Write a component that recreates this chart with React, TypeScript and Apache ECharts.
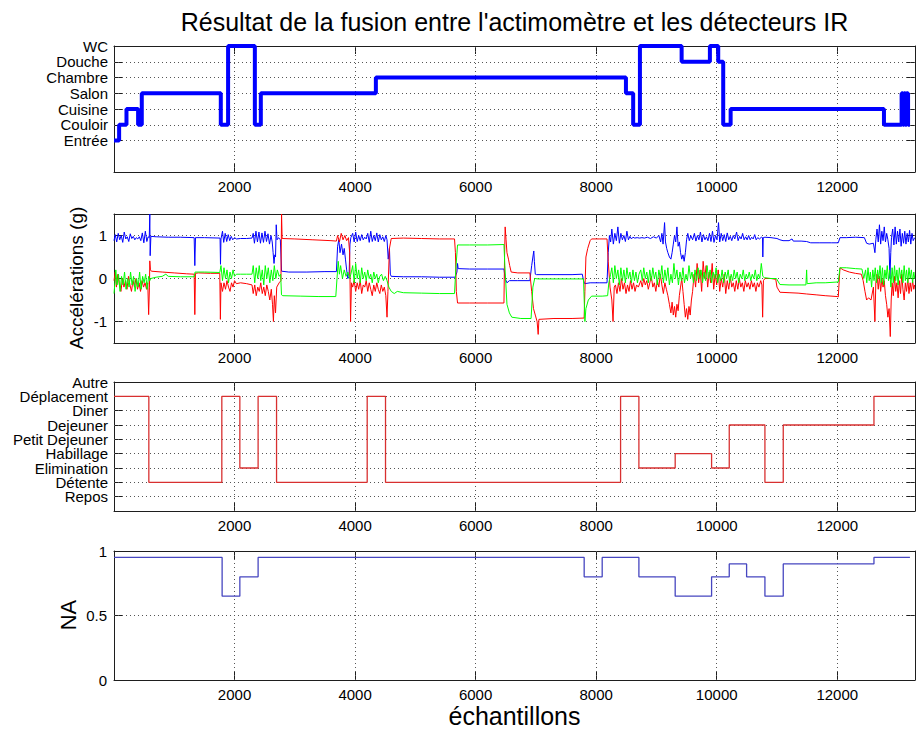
import React, { useEffect, useRef } from 'react';
import * as echarts from 'echarts';

const FONT = "'Liberation Sans', Arial, Helvetica, sans-serif";
const AX = '#1e1e1e';
const GRID_C = '#555555';

const X_MAX = 13290;
const xTicks = [2000, 4000, 6000, 8000, 10000, 12000];

// Panel 1 : location
const locationNames = ['Entrée', 'Couloir', 'Cuisine', 'Salon', 'Chambre', 'Douche', 'WC'];
const locationStarts = [0, 85, 207, 400, 461, 1772, 1893, 2337, 2436, 4345, 8494, 8614, 8726, 9418, 9887, 10025, 10108, 10231, 12775, 13068, 13090, 13110, 13130, 13150, 13175];
const locationValues = ['Entrée', 'Couloir', 'Cuisine', 'Couloir', 'Salon', 'Couloir', 'WC', 'Couloir', 'Salon', 'Chambre', 'Salon', 'Couloir', 'WC', 'Douche', 'WC', 'Douche', 'Couloir', 'Cuisine', 'Couloir', 'Salon', 'Couloir', 'Salon', 'Couloir', 'Salon', 'Couloir'];
const locationEnd = 13206;

// Panel 2 : accelerations
const accBlue = [
  [0, 0.88], [20, 1.02], [45, 0.85], [70, 1.05], [95, 0.9], [120, 1.0], [145, 0.84], [170, 1.08], [195, 0.92], [220, 0.97], [245, 0.86], [270, 1.04], [295, 0.93], [320, 0.98], [345, 0.9], [370, 0.95], [395, 0.92], [420, 0.97], [445, 0.88], [470, 1.06], [495, 0.83], [520, 1.1], [545, 0.86], [566, 0.97],
  [585, 0.95], [594, 1.5], [600, 0.53], [612, 0.98],
  [700, 0.97], [900, 0.96], [1100, 0.96], [1330, 0.95], [1341, 0.3], [1352, 0.95], [1500, 0.95], [1760, 0.94], [1767, 0.33], [1775, 0.92],
  [1800, 1.1], [1820, 0.84], [1845, 1.05], [1870, 0.86], [1895, 1.02], [1920, 0.88], [1945, 0.98], [1970, 0.9], [2000, 0.95], [2030, 0.92],
  [2100, 0.93], [2200, 0.93], [2290, 0.94],
  [2310, 1.05], [2330, 0.82], [2355, 1.1], [2380, 0.85], [2405, 1.08], [2430, 0.82], [2455, 1.06], [2480, 0.84], [2505, 1.1], [2530, 0.86], [2555, 1.04], [2580, 0.8], [2605, 1.0], [2625, 0.85],
  [2640, 0.6], [2655, 0.35], [2668, 0.55], [2680, 0.5], [2692, 1.25], [2705, 0.9], [2730, 0.95], [2760, 0.9],
  [2780, 0.17], [2900, 0.15], [3200, 0.15], [3500, 0.16], [3690, 0.16],
  [3710, 0.75], [3730, 0.9], [3750, 0.6], [3775, 0.8], [3800, 0.55], [3820, 0.7], [3840, 0.45], [3860, 0.2], [3880, 0.0], [3900, 0.05], [3915, 0.8], [3930, 0.95],
  [3960, 1.05], [3985, 0.85], [4010, 1.08], [4035, 0.86], [4060, 1.0], [4085, 0.88], [4110, 1.02], [4135, 0.9], [4160, 0.96], [4185, 0.92], [4210, 1.05], [4235, 0.84], [4260, 1.1], [4285, 0.86], [4310, 1.0], [4335, 0.88], [4360, 1.06], [4385, 0.85], [4410, 1.02], [4435, 0.9], [4460, 0.97], [4485, 0.86], [4510, 1.0], [4530, 0.9],
  [4550, 0.45], [4570, 0.7], [4585, 0.1], [4600, 0.05], [4800, 0.04], [5100, 0.04], [5400, 0.03], [5660, 0.03],
  [5690, 0.15], [5700, 0.35], [5710, 0.23], [5900, 0.22], [6200, 0.22], [6470, 0.22],
  [6490, 0.0], [6520, -0.1], [6560, -0.05], [6700, -0.05], [6900, -0.05],
  [6930, 0.3], [6950, 0.5], [6965, 0.64], [6975, 0.4], [6990, 0.1], [7010, 0.09], [7300, 0.09], [7600, 0.09], [7770, 0.1],
  [7790, -0.05], [7810, -0.12], [7900, -0.1], [8050, -0.1], [8180, -0.1],
  [8200, 0.6], [8220, 1.0], [8240, 0.85],
  [8260, 1.15], [8285, 0.8], [8310, 1.05], [8335, 0.88], [8360, 1.2], [8385, 0.82], [8410, 1.05], [8435, 0.9], [8460, 1.0], [8485, 0.86], [8510, 1.1], [8535, 0.9], [8560, 0.98], [8585, 0.92], [8610, 0.96], [8640, 0.94], [8680, 0.95], [8720, 0.94],
  [8760, 0.95], [8800, 0.94], [8850, 0.96], [8900, 0.93], [8950, 0.97], [9000, 0.94], [9040, 1.0],
  [9070, 0.85], [9090, 1.05], [9110, 0.8], [9135, 1.3], [9150, 0.85], [9170, 0.7], [9190, 0.6], [9215, 0.5], [9240, 0.45], [9260, 0.6], [9280, 0.8], [9300, 1.0], [9320, 0.85], [9340, 1.2], [9360, 0.75], [9380, 0.85], [9400, 0.6], [9420, 0.45], [9440, 0.55], [9460, 0.4], [9480, 0.6], [9500, 0.9], [9520, 1.05], [9545, 0.88], [9570, 1.0], [9600, 0.9],
  [9630, 1.05], [9655, 0.87], [9680, 1.0], [9705, 0.9], [9730, 1.08], [9755, 0.85], [9780, 1.02], [9805, 0.9], [9830, 0.97], [9855, 0.88], [9880, 1.05], [9905, 0.86], [9930, 1.1], [9955, 0.84], [9980, 1.0], [10005, 0.9], [10030, 1.3], [10050, 0.85], [10075, 1.05], [10100, 0.88], [10125, 1.02], [10150, 0.86], [10175, 1.06], [10200, 0.9], [10225, 0.98], [10250, 0.88], [10275, 1.0], [10300, 0.92], [10330, 1.08], [10355, 0.88], [10380, 0.98], [10405, 0.92], [10430, 1.05], [10455, 0.9], [10480, 0.97], [10505, 0.9], [10530, 1.0], [10555, 0.9], [10580, 0.96], [10605, 0.92], [10630, 1.02], [10655, 0.9], [10680, 0.95], [10710, 0.92], [10740, 0.96],
  [10760, 0.95], [10765, 0.5], [10772, 0.95],
  [10800, 0.96], [10900, 0.95], [11000, 0.93], [11049, 0.9], [11100, 0.88], [11200, 0.88], [11250, 0.92], [11270, 0.87], [11400, 0.87], [11492, 0.86], [11560, 0.83], [11700, 0.83], [11900, 0.83], [12017, 0.83], [12045, 0.95], [12150, 0.95], [12300, 0.96], [12450, 0.95],
  [12487, 0.82], [12530, 0.8], [12600, 0.82], [12625, 0.6], [12640, 0.9],
  [12660, 1.15], [12680, 0.85], [12700, 1.25], [12720, 0.8], [12740, 1.1], [12760, 0.88], [12780, 1.2], [12800, 0.85], [12820, 1.05], [12840, 0.9], [12860, 0.7], [12874, 0.0], [12888, 0.6], [12900, 0.95],
  [12920, 1.15], [12940, 0.78], [12960, 1.2], [12980, 0.8], [13000, 1.1], [13020, 0.85], [13040, 1.15], [13060, 0.75], [13080, 1.05], [13100, 0.82], [13120, 1.1], [13140, 0.8], [13160, 1.05], [13180, 0.85], [13200, 1.12], [13220, 0.8], [13240, 1.05], [13260, 0.88], [13285, 0.95],
];

const accRed = [
  [0, -0.05], [20, 0.15], [40, -0.2], [65, 0.1], [90, -0.15], [115, -0.3], [140, 0.0], [165, -0.2], [190, -0.05], [215, -0.25], [240, 0.05], [265, -0.15], [290, -0.3], [315, -0.05], [340, -0.2], [365, 0.0], [390, -0.25], [415, -0.1], [440, -0.3], [465, -0.05], [490, -0.2], [515, -0.1], [540, -0.25], [560, -0.1], [575, -0.84], [588, -0.2], [594, 0.41], [605, 0.2],
  [620, 0.17], [800, 0.15], [1000, 0.13], [1200, 0.11], [1330, 0.1], [1341, -0.84], [1352, 0.12], [1400, 0.13], [1600, 0.12], [1755, 0.12], [1765, -0.95], [1775, -0.1],
  [1800, -0.3], [1825, -0.1], [1850, -0.25], [1875, -0.05], [1900, -0.2], [1925, -0.3], [1950, -0.1], [1975, -0.2], [2000, -0.05], [2030, -0.12],
  [2100, -0.1], [2200, -0.12], [2290, -0.15],
  [2310, -0.35], [2335, -0.15], [2360, -0.4], [2385, -0.2], [2410, -0.3], [2435, -0.1], [2460, -0.35], [2485, -0.2], [2510, -0.4], [2535, -0.15], [2560, -0.3], [2585, -0.5], [2610, -0.25], [2630, -0.6], [2645, -1.0], [2660, -0.4], [2680, -0.8], [2700, -0.2], [2740, -0.1], [2770, -0.05],
  [2780, 1.5], [2790, 0.93], [3000, 0.92], [3300, 0.9], [3600, 0.88], [3690, 0.87],
  [3710, 1.0], [3740, 0.85], [3770, 1.05], [3800, 0.9], [3830, 1.0], [3860, 0.88], [3890, 0.95], [3910, 0.6], [3925, -1.0], [3940, -0.1],
  [3960, -0.2], [3985, -0.05], [4010, -0.3], [4035, -0.1], [4060, -0.25], [4085, -0.05], [4110, -0.35], [4135, -0.15], [4160, -0.2], [4185, -0.05], [4210, -0.3], [4235, -0.1], [4260, -0.25], [4285, -0.4], [4310, -0.15], [4335, -0.3], [4360, -0.1], [4385, -0.25], [4410, -0.35], [4435, -0.15], [4460, -0.3], [4485, -0.2], [4510, -0.4], [4530, -0.9], [4545, -0.3],
  [4570, 0.7], [4600, 0.93], [4800, 0.94], [5100, 0.93], [5400, 0.92], [5650, 0.92],
  [5665, 0.6], [5680, -0.3], [5700, -0.57], [5900, -0.57], [6200, -0.57], [6470, -0.57],
  [6480, 0.5], [6490, 1.2], [6505, 0.9], [6520, 0.6], [6545, 0.45], [6565, 0.3], [6590, 0.15], [6700, 0.13], [6900, 0.13],
  [6930, -0.3], [6960, -0.7], [6990, -0.85], [7020, -1.0], [7038, -1.3], [7050, -0.95], [7300, -0.93], [7600, -0.93], [7800, -0.92],
  [7813, -0.3], [7830, 0.5], [7860, 0.7], [7900, 0.88], [7924, 0.92], [8050, 0.92], [8180, 0.92],
  [8200, 0.4], [8230, -0.2], [8260, -0.5], [8280, -1.0], [8300, -0.2],
  [8320, -0.15], [8345, -0.35], [8370, -0.1], [8395, -0.3], [8420, 0.0], [8445, -0.25], [8470, -0.1], [8495, -0.35], [8520, -0.15], [8545, -0.3], [8570, -0.05], [8595, -0.25], [8620, -0.1], [8645, -0.3], [8670, -0.15], [8700, -0.2],
  [8740, -0.05], [8765, -0.2], [8790, 0.0], [8815, -0.15], [8840, -0.05], [8865, -0.25], [8890, -0.1], [8915, 0.05], [8940, -0.2], [8965, -0.1], [8990, -0.3], [9015, -0.05], [9040, -0.2], [9065, 0.1], [9090, -0.15], [9115, -0.35], [9140, -0.1], [9165, -0.25], [9190, -0.4], [9215, -0.6],
  [9240, -0.8], [9260, -0.55], [9280, -0.85], [9300, -0.65], [9320, -0.9], [9340, -0.6], [9360, -0.75], [9380, -0.4], [9400, -0.2], [9420, 0.0], [9440, -0.3], [9460, -0.6], [9480, -0.9], [9500, -0.7], [9520, -0.95], [9540, -0.65], [9560, -0.85], [9580, -0.5], [9600, -0.3],
  [9625, 0.1], [9650, -0.2], [9675, 0.35], [9700, -0.1], [9725, 0.2], [9750, -0.3], [9775, 0.4], [9800, 0.0], [9825, 0.3], [9850, -0.2], [9875, 0.15], [9900, -0.1], [9925, 0.35], [9950, -0.25], [9975, 0.1], [10000, -0.15], [10025, 0.2], [10050, -0.3], [10075, 0.0], [10100, -0.2], [10125, 0.1], [10150, -0.35], [10175, -0.05], [10200, -0.25], [10225, 0.05], [10250, -0.2], [10275, -0.1], [10300, -0.3], [10325, -0.05], [10350, -0.25], [10375, 0.0], [10400, -0.2], [10425, -0.1], [10450, -0.3], [10475, -0.05], [10500, -0.2], [10525, -0.1], [10550, -0.25], [10575, -0.05], [10600, -0.2], [10625, -0.1], [10650, -0.3], [10675, -0.1], [10700, -0.2], [10730, -0.05], [10750, -0.15], [10762, -0.9], [10775, -0.05],
  [10800, 0.0], [10900, 0.0], [10980, -0.02], [11000, -0.2], [11049, -0.32], [11200, -0.33], [11350, -0.34], [11492, -0.36], [11650, -0.38], [11800, -0.4], [12000, -0.42], [12017, -0.43],
  [12045, 0.25], [12100, 0.2], [12200, 0.15], [12300, 0.12], [12400, 0.1], [12430, -0.05],
  [12460, -0.3], [12487, -0.5], [12520, -0.45], [12560, -0.5], [12600, -0.2], [12625, -1.0], [12640, -0.1],
  [12660, 0.1], [12680, -0.25], [12700, 0.05], [12720, -0.3], [12740, 0.0], [12760, -0.2], [12780, -0.05], [12800, -0.4], [12820, -0.6], [12840, -0.9], [12860, -0.7], [12880, -1.35], [12895, -0.5],
  [12910, -0.1], [12930, -0.4], [12950, 0.05], [12970, -0.3], [12990, -0.1], [13010, -0.45], [13030, -0.05], [13050, -0.35], [13070, 0.1], [13090, -0.25], [13110, -0.5], [13130, -0.1], [13150, -0.3], [13170, 0.0], [13190, -0.35], [13210, -0.1], [13230, -0.3], [13250, -0.05], [13270, -0.25], [13285, -0.15],
];

const accGreen = [
  [0, -0.35], [15, -0.1], [30, 0.2], [50, -0.15], [75, 0.1], [100, -0.3], [125, 0.05], [150, -0.15], [175, 0.15], [200, -0.25], [225, 0.0], [250, -0.2], [275, 0.15], [300, -0.15], [325, 0.05], [350, -0.3], [375, 0.0], [400, -0.2], [425, 0.15], [450, -0.25], [475, 0.05], [500, -0.1], [525, 0.1], [550, -0.25], [575, 0.05], [594, -0.05], [610, 0.0],
  [700, 0.03], [800, 0.05], [860, 0.1], [900, 0.05], [1100, 0.04], [1330, 0.04], [1345, 0.15], [1500, 0.15], [1755, 0.14],
  [1775, 0.3], [1800, -0.05], [1825, 0.25], [1850, 0.0], [1875, 0.2], [1900, -0.1], [1925, 0.15], [1950, 0.0], [1975, 0.2], [2000, 0.05], [2030, 0.1],
  [2100, 0.1], [2200, 0.1], [2290, 0.1],
  [2310, 0.3], [2335, -0.1], [2360, 0.25], [2385, 0.0], [2410, 0.3], [2435, -0.05], [2460, 0.2], [2485, -0.15], [2510, 0.3], [2535, 0.0], [2560, 0.25], [2585, -0.1], [2610, 0.2], [2635, -0.05], [2660, 0.3], [2685, 0.0], [2710, 0.2], [2740, 0.05], [2765, 0.1],
  [2779, -0.38], [2800, -0.4], [3100, -0.41], [3400, -0.42], [3680, -0.42],
  [3700, 0.0], [3720, 0.4], [3740, 0.1], [3760, 0.3], [3790, 0.0], [3820, 0.2], [3850, 0.05], [3880, 0.15], [3910, 0.0], [3930, 0.1],
  [3960, 0.3], [3985, -0.1], [4010, 0.35], [4035, 0.0], [4060, 0.2], [4085, -0.1], [4110, 0.25], [4135, 0.0], [4160, 0.15], [4185, -0.05], [4210, 0.2], [4235, 0.0], [4260, 0.1], [4285, -0.1], [4310, 0.15], [4335, 0.0], [4360, 0.1], [4385, -0.1], [4410, 0.05], [4440, 0.1], [4470, -0.05], [4500, 0.05], [4530, -0.05],
  [4560, -0.2], [4600, -0.3], [4650, -0.35], [4700, -0.3], [4800, -0.33], [5100, -0.34], [5400, -0.35], [5650, -0.35],
  [5670, 0.2], [5700, 0.78], [5900, 0.78], [6200, 0.78], [6470, 0.79],
  [6485, 0.3], [6520, -0.6], [6560, -0.8], [6600, -0.9], [6750, -0.93], [6920, -0.93],
  [6950, -0.2], [6980, 0.0], [7040, -0.01], [7400, -0.01], [7790, -0.01],
  [7813, -1.0], [7830, -0.7], [7870, -0.5], [7924, -0.41], [8100, -0.41], [8190, -0.4],
  [8210, -0.1], [8240, 0.1],
  [8260, 0.25], [8285, -0.1], [8310, 0.3], [8335, 0.0], [8360, 0.2], [8385, -0.15], [8410, 0.25], [8435, -0.05], [8460, 0.2], [8485, -0.1], [8510, 0.25], [8535, 0.0], [8560, 0.15], [8585, -0.1], [8610, 0.2], [8635, -0.05], [8660, 0.15], [8685, -0.1], [8710, 0.1],
  [8740, 0.2], [8765, -0.05], [8790, 0.25], [8815, 0.0], [8840, 0.15], [8865, -0.1], [8890, 0.2], [8915, -0.05], [8940, 0.25], [8965, 0.0], [8990, 0.15], [9015, -0.15], [9040, 0.2], [9065, 0.0], [9090, 0.3], [9115, -0.1], [9140, 0.2], [9165, -0.05], [9190, 0.25], [9215, -0.15], [9240, 0.1], [9265, -0.1], [9290, 0.35], [9315, 0.0], [9340, 0.2], [9365, -0.15], [9390, 0.15], [9415, -0.05], [9440, 0.25], [9465, -0.1], [9490, 0.1], [9515, -0.05], [9540, 0.3], [9565, 0.0], [9590, 0.15], [9615, -0.1], [9640, 0.2], [9665, -0.05], [9690, 0.25], [9715, 0.0], [9740, 0.2], [9765, -0.1], [9790, 0.15], [9815, -0.05], [9840, 0.3], [9865, 0.0], [9890, 0.2], [9915, -0.1], [9940, 0.15], [9965, 0.0], [9990, 0.25], [10015, -0.1], [10040, 0.1], [10065, -0.05], [10090, 0.2], [10115, -0.1], [10140, 0.15], [10165, 0.0], [10190, 0.2], [10215, -0.1], [10240, 0.1], [10265, -0.05], [10290, 0.2], [10315, 0.0], [10340, 0.15], [10365, -0.1], [10390, 0.1], [10415, 0.0], [10440, 0.2], [10465, -0.05], [10490, 0.1], [10515, 0.0], [10540, 0.15], [10565, -0.05], [10590, 0.1], [10615, 0.0], [10640, 0.2], [10665, -0.05], [10690, 0.1], [10715, 0.0], [10740, 0.35], [10765, 0.05], [10790, 0.02],
  [10900, 0.0], [10990, 0.0], [11049, -0.14], [11200, -0.15], [11400, -0.15], [11480, -0.15], [11492, 0.2], [11500, -0.12], [11650, -0.1], [11800, -0.1], [12017, -0.08],
  [12045, 0.25], [12150, 0.25], [12300, 0.23], [12410, 0.22], [12440, 0.0],
  [12470, 0.2], [12490, -0.1], [12510, 0.25], [12530, -0.05], [12550, 0.15], [12570, -0.2], [12590, 0.2], [12610, -0.05], [12630, 0.25], [12650, -0.1], [12670, 0.2], [12690, 0.0], [12710, 0.3], [12730, -0.1], [12750, 0.25], [12770, -0.15], [12790, 0.2], [12810, 0.0], [12830, 0.3], [12850, -0.05], [12870, 0.2], [12890, -0.2], [12910, 0.25], [12930, -0.1], [12950, 0.3], [12970, -0.05], [12990, 0.2], [13010, -0.15], [13030, 0.25], [13050, 0.0], [13070, 0.2], [13090, -0.1], [13110, 0.3], [13130, -0.05], [13150, 0.2], [13170, -0.1], [13190, 0.25], [13210, 0.0], [13230, 0.2], [13250, -0.1], [13270, 0.15], [13285, 0.0],
];

// Panel 3 : activity
const activityNames = ['Repos', 'Détente', 'Elimination', 'Habillage', 'Petit Dejeuner', 'Dejeuner', 'Diner', 'Déplacement', 'Autre'];
const activityStarts = [0, 578, 1789, 2088, 2391, 2697, 4201, 4505, 8405, 8709, 9311, 9915, 10208, 10800, 11104, 12609];
const activityValues = ['Déplacement', 'Détente', 'Déplacement', 'Elimination', 'Déplacement', 'Détente', 'Déplacement', 'Détente', 'Déplacement', 'Elimination', 'Habillage', 'Elimination', 'Dejeuner', 'Détente', 'Dejeuner', 'Déplacement'];
const activityEnd = 13290;

// Panel 4 : NA
const naStarts = [0, 1794, 2088, 2391, 7801, 8100, 8709, 9311, 9915, 10208, 10496, 10800, 11104, 12609];
const naValues = [0.95, 0.65, 0.8, 0.95, 0.8, 0.95, 0.8, 0.65, 0.8, 0.9, 0.8, 0.65, 0.9, 0.95];
const naEnd = 13206;

const accTicks = [-1, 0, 1];
const naTicks = [0, 0.5, 1];

// blank categories below the first named level
const locationCats = ['', ' ', ...locationNames];
const activityCats = ['', ...activityNames];

// explicit step polyline: hold each value until the next start
function stepPoints<T>(starts: number[], values: T[], end: number) {
  const d: [number, T][] = [];
  starts.forEach((s, i) => {
    const next = i + 1 < starts.length ? starts[i + 1] : end;
    d.push([s, values[i]], [next, values[i]]);
  });
  return d;
}

const grids = [
  { left: 114, top: 46, width: 801, height: 126 },
  { left: 114, top: 214, width: 801, height: 129 },
  { left: 114, top: 382, width: 801, height: 129 },
  { left: 114, top: 551, width: 801, height: 129 },
];

export default function App() {
  const ref = useRef<HTMLDivElement>(null);
  useEffect(() => {
    if (!ref.current) return;
    const chart = echarts.init(ref.current, null, { renderer: 'svg' });

    const labelStyle = { color: '#000', fontSize: 15, fontFamily: FONT };
    const tickBase = { show: true, inside: true, length: 8, lineStyle: { color: AX, width: 1 } };
    const line = { show: true, onZero: false, lineStyle: { color: AX, width: 1 } };

    const xAxes: any[] = [];
    const yAxes: any[] = [];

    const catY = (i: number, cats: string[], first: number, position: 'left' | 'right') => ({
      gridIndex: i, type: 'category', data: cats, boundaryGap: false, position,
      axisLine: line,
      axisTick: { ...tickBase, alignWithLabel: true, interval: (idx: number) => idx >= first },
      axisLabel: position === 'left'
        ? { ...labelStyle, margin: 6, interval: 0, formatter: (v: string) => v.trim() }
        : { show: false },
      splitLine: { show: false },
    });
    const valY = (i: number, min: number, max: number, interval: number, ticks: number[], position: 'left' | 'right') => ({
      gridIndex: i, type: 'value', min, max, interval, position,
      axisLine: line,
      axisTick: { ...tickBase, customValues: ticks },
      axisLabel: position === 'left'
        ? { ...labelStyle, margin: 7, customValues: ticks, formatter: (v: number) => (ticks.includes(v) ? String(v) : '') }
        : { show: false },
      splitLine: { show: false },
    });

    grids.forEach((g, i) => {
      xAxes.push({
        gridIndex: i, type: 'value', min: 0, max: X_MAX, interval: 2000, position: 'bottom',
        axisLine: line, axisTick: { ...tickBase, customValues: xTicks },
        axisLabel: { ...labelStyle, margin: 7, customValues: xTicks, formatter: (v: number) => (v === 0 ? '' : String(v)) },
        splitLine: { show: false },
      });
      xAxes.push({
        gridIndex: i, type: 'value', min: 0, max: X_MAX, interval: 2000, position: 'top',
        axisLine: line, axisTick: { ...tickBase, customValues: xTicks }, axisLabel: { show: false }, splitLine: { show: false },
      });
    });
    yAxes.push(catY(0, locationCats, 2, 'left'), catY(0, locationCats, 2, 'right'));
    yAxes.push(valY(1, -1.5, 1.5, 0.5, accTicks, 'left'), valY(1, -1.5, 1.5, 0.5, accTicks, 'right'));
    yAxes.push(catY(2, activityCats, 1, 'left'), catY(2, activityCats, 1, 'right'));
    yAxes.push(valY(3, 0, 1, 0.5, naTicks, 'left'), valY(3, 0, 1, 0.5, naTicks, 'right'));

    const gridLines = (yVals: (number | string)[]) => ({
      silent: true,
      symbol: ['none', 'none'],
      z: 1,
      label: { show: false },
      emphasis: { disabled: true },
      lineStyle: { type: [1, 3], color: GRID_C, width: 1 },
      data: [...xTicks.map((v) => ({ xAxis: v })), ...yVals.map((v) => ({ yAxis: v }))],
    });

    const base = { type: 'line', showSymbol: false, symbol: 'none', silent: true, animation: false, z: 3 };

    const series: any[] = [
      {
        ...base, name: 'Localisation', xAxisIndex: 0, yAxisIndex: 0,
        data: stepPoints(locationStarts, locationValues, locationEnd),
        lineStyle: { color: '#0000ff', width: 4 },
        markLine: gridLines(locationNames.slice(0, -1)),
      },
      {
        ...base, name: 'Axe X', xAxisIndex: 2, yAxisIndex: 2, data: accBlue,
        lineStyle: { color: '#0000ff', width: 1 },
        markLine: gridLines([-1, 0, 1]),
      },
      { ...base, name: 'Axe Y', xAxisIndex: 2, yAxisIndex: 2, data: accRed, lineStyle: { color: '#ff0000', width: 1 } },
      { ...base, name: 'Axe Z', xAxisIndex: 2, yAxisIndex: 2, data: accGreen, lineStyle: { color: '#00ff00', width: 1 } },
      {
        ...base, name: 'Activité', xAxisIndex: 4, yAxisIndex: 4,
        data: stepPoints(activityStarts, activityValues, activityEnd),
        lineStyle: { color: '#d83030', width: 1.3 },
        markLine: gridLines(activityNames.slice(0, -1)),
      },
      {
        ...base, name: 'NA', xAxisIndex: 6, yAxisIndex: 6,
        data: stepPoints(naStarts, naValues, naEnd),
        lineStyle: { color: '#4646c0', width: 1.3 },
        markLine: gridLines([0.5]),
      },
    ];

    const txt = (text: string, x: number, y: number, size: number, rotation = 0) => ({
      type: 'text', x, y, rotation, silent: true,
      style: {
        text, fill: '#000', fontSize: size, fontFamily: FONT,
        align: 'center', verticalAlign: 'middle', textAlign: 'center', textVerticalAlign: 'middle',
      },
    });

    chart.setOption({
      animation: false,
      backgroundColor: '#ffffff',
      grid: grids.map((g) => ({ ...g, containLabel: false, show: false })),
      xAxis: xAxes,
      yAxis: yAxes,
      series,
      graphic: [
        txt("Résultat de la fusion entre l'actimomètre et les détecteurs IR", 514.5, 22, 25),
        txt('échantillons', 514.5, 716, 25),
        txt('Accélérations (g)', 76, 278, 19, Math.PI / 2),
        txt('NA', 68, 615, 22, Math.PI / 2),
      ],
    });
    return () => chart.dispose();
  }, []);
  return <div ref={ref} style={{ position: 'absolute', left: 0, top: 0, width: 916, height: 729, background: '#fff' }} />;
}
